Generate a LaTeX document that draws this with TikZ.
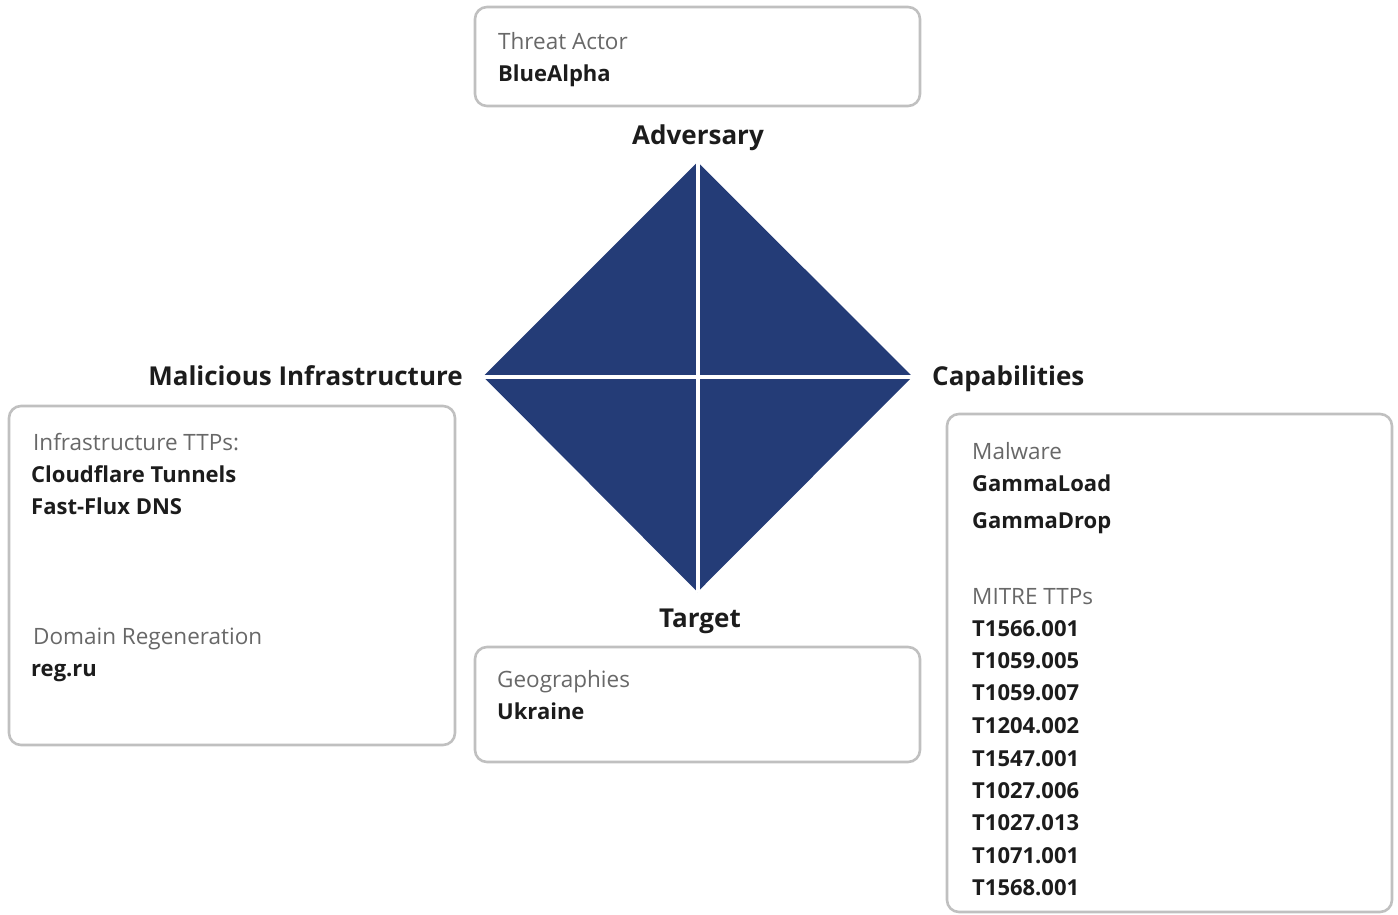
\documentclass[tikz,border=0pt]{standalone}
\usepackage{fontspec}
\setmainfont{Open Sans}
\definecolor{navy}{RGB}{36,60,119}
\definecolor{boxgray}{RGB}{192,192,192}
\definecolor{labgray}{RGB}{104,104,104}
\definecolor{txtdark}{RGB}{28,28,28}
\begin{document}
\begin{tikzpicture}[x=1pt,y=-1pt,
  panel/.style={draw=boxgray,line width=2.6pt,rounded corners=12pt,fill=white},
  lab/.style={anchor=base west,inner sep=0pt,text=labgray,font=\fontsize{22.5}{26}\selectfont},
  val/.style={anchor=base west,inner sep=0pt,text=txtdark,font=\fontsize{22}{26}\selectfont\bfseries},
  head/.style={inner sep=0pt,text=txtdark,font=\fontsize{26}{30}\selectfont\bfseries},
  crossline/.style={draw=white,line width=4pt}]
\useasboundingbox (0,0) rectangle (1398,914);

% panels
\draw[panel] (475,7) rectangle (920,106);
\draw[panel] (9,406) rectangle (455,745);
\draw[panel] (475,647) rectangle (920,762);
\draw[panel] (947,414) rectangle (1392,912);

% diamond
\coordinate (dT) at (697.5,162);
\coordinate (dL) at (483,376.5);
\coordinate (dR) at (912.5,376.5);
\coordinate (dB) at (697.5,592);
\fill[navy] (dT) -- (dR) -- (dB) -- (dL) -- cycle;
\draw[crossline] (dT) -- (dB);
\draw[crossline] (dL) -- (dR);

% headings
\node[head,anchor=base] (adv) at (698,144) {Adversary};
\node[head,anchor=base east] (infra) at (463,385) {Malicious Infrastructure};
\node[head,anchor=base west] (cap) at (932,385) {Capabilities};
\node[head,anchor=base] (tgt) at (700,627) {Target};

% top box
\node[lab] (ta) at (498,49) {Threat Actor};
\node[val] (ba) at (498,81) {BlueAlpha};

% left box
\node[lab] (ittp) at (33,450) {Infrastructure TTPs:};
\node[val] (cft) at (31,482) {Cloudflare Tunnels};
\node[val] (ffd) at (31,514) {Fast-Flux DNS};
\node[lab] (dreg) at (33,644) {Domain Regeneration};
\node[val] (regru) at (31,676) {reg.ru};

% bottom box
\node[lab] (geo) at (497,687) {Geographies};
\node[val] (ukr) at (497,719) {Ukraine};

% right box
\node[lab] (mal) at (972,459) {Malware};
\node[val] (gl) at (972,491) {GammaLoad};
\node[val] (gd) at (972,528) {GammaDrop};
\node[lab] (mitre) at (972,604) {MITRE TTPs};
\node[val] (t1) at (972,636) {T1566.001};
\node[val] (t2) at (972,668) {T1059.005};
\node[val] (t3) at (972,700) {T1059.007};
\node[val] (t4) at (972,733) {T1204.002};
\node[val] (t5) at (972,766) {T1547.001};
\node[val] (t6) at (972,798) {T1027.006};
\node[val] (t7) at (972,830) {T1027.013};
\node[val] (t8) at (972,863) {T1071.001};
\node[val] (t9) at (972,895) {T1568.001};
\end{tikzpicture}
\end{document}
